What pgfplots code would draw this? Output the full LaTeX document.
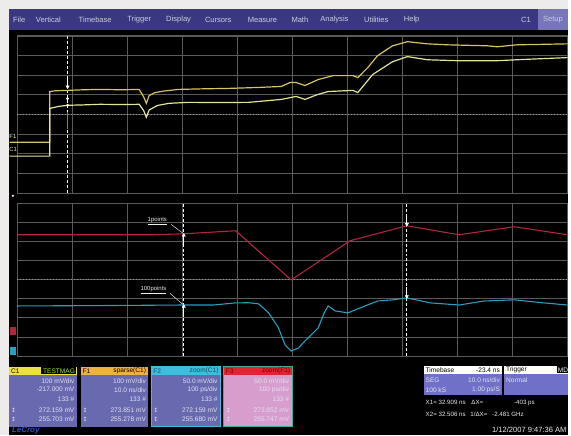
\documentclass[border=0pt]{standalone}
\usepackage{pgfplots}
\pgfplotsset{compat=1.18}
\usepackage{fontspec}
\setmainfont{Liberation Sans}
\newfontfamily\symfont{DejaVu Sans}
\definecolor{margin}{RGB}{238,236,234}
\definecolor{menubar}{RGB}{58,56,128}
\definecolor{menutext}{RGB}{205,205,225}
\definecolor{setupbox}{RGB}{118,118,185}
\definecolor{gridc}{RGB}{90,90,90}
\definecolor{centc}{RGB}{150,150,150}
\definecolor{trA}{RGB}{215,195,95}
\definecolor{trB}{RGB}{228,228,150}
\definecolor{trRed}{RGB}{178,38,62}
\definecolor{trCyan}{RGB}{40,158,192}
\definecolor{boxbody}{RGB}{105,105,175}
\definecolor{boxtext}{RGB}{225,225,240}
\definecolor{hdrC}{RGB}{238,225,60}
\definecolor{hdrF1}{RGB}{240,178,62}
\definecolor{hdrF2}{RGB}{60,190,222}
\definecolor{hdrF3}{RGB}{225,35,50}
\definecolor{pinkbody}{RGB}{215,158,205}
\definecolor{teal}{RGB}{60,175,150}
\definecolor{tbbody}{RGB}{112,112,200}
\definecolor{lecroy}{RGB}{50,80,190}
\newcommand{\menufont}{\fontsize{7.6}{8}\selectfont}
\newcommand{\boxfont}{\fontsize{6.6}{7}\selectfont}
\newcommand{\curfont}{\fontsize{6.2}{7}\selectfont}
\newcommand{\lblfont}{\fontsize{6}{7}\selectfont}
\pgfplotsset{panel/.style={scale only axis, width=554pt, xmin=0, xmax=10, ymin=-4, ymax=4,
  xtick={0,...,10}, ytick={-4,...,4}, xticklabels={}, yticklabels={}, major tick length=0pt,
  grid=major, grid style={gridc, line width=0.45pt}, axis line style={gridc, line width=0.6pt},
  clip=false, axis background/.style={fill=black}}}
\newcommand{\ibox}[4]{\fill[#4] (#1,-377) rectangle (#2,-429);\fill[#3] (#1,-369) rectangle (#2,-377);}
\newcommand{\irow}[3]{\node[anchor=east, inner sep=0pt, font=\boxfont, text=boxtext] at (#1,#2) {#3};}
\newcommand{\wtxt}[3]{\node[anchor=#1, inner sep=0pt, font=\curfont, text=white!85!gray] at (#2) {#3};}
\begin{document}
\begin{tikzpicture}[x=1pt,y=1pt]
\fill[margin] (0,0) rectangle (571,-438);
\fill[black] (9,-30) rectangle (571,-438);
\fill[menubar] (9,-9) rectangle (571,-30);
\fill[setupbox] (541,-9) rectangle (571,-30);
\foreach \t/\x in {File/13,Vertical/36,Timebase/79,Trigger/128,Display/167,Cursors/206,Measure/249,Math/293,Analysis/322,Utilities/366,Help/406,C1/524,Setup/546}
  \node[anchor=west, inner sep=0pt, font=\menufont, text=menutext] at (\x,-20) {\t};

% ---------- top panel ----------
\begin{axis}[panel, at={(17pt,-36pt)}, anchor=north west, height=158pt]
\addplot[centc, dash pattern=on 0.8pt off 2.2pt, line width=0.7pt] coordinates {(0,0) (10,0)};
\addplot[white, dash pattern=on 3pt off 2pt, line width=0.8pt] coordinates {(0.92,-4) (0.92,4)};
\addplot[trCyan, line width=1.4pt] coordinates {(0.92,0.1) (0.92,-0.76)};
\addplot[trA, line width=1.2pt] coordinates {
(-0.13,-1.42)(0.596,-1.42)(0.596,1.16)(0.70,1.20)(0.92,1.22)(1.2,1.25)(1.50,1.27)(1.9,1.25)(2.22,1.27)
(2.30,0.9)(2.35,0.56)(2.40,0.95)(2.50,1.10)(2.65,1.18)(2.94,1.27)(3.4,1.30)(3.84,1.32)(4.39,1.37)
(4.80,1.42)(4.96,1.62)(5.07,1.62)(5.23,1.47)(5.47,1.77)(5.74,1.97)(6.10,1.97)(6.19,1.87)(6.37,2.38)
(6.55,2.99)(6.82,3.49)(7.09,3.70)(7.45,3.59)(7.82,3.54)(8.54,3.49)(8.72,3.44)(9.08,3.54)(10,3.59)};
\addplot[trB, line width=1.2pt] coordinates {
(-0.13,-2.13)(0.596,-2.13)(0.596,0.30)(0.75,0.40)(0.92,0.46)(1.2,0.48)(1.50,0.51)(1.9,0.50)(2.22,0.51)
(2.30,0.2)(2.35,-0.15)(2.40,0.22)(2.55,0.45)(2.76,0.56)(3.12,0.61)(3.7,0.60)(4.21,0.61)(4.80,0.76)
(4.98,0.86)(5.07,0.91)(5.23,0.76)(5.45,1.0)(5.65,1.16)(6.10,1.22)(6.19,1.11)(6.46,2.03)(6.82,2.68)
(7.09,2.94)(7.45,2.78)(8.00,2.73)(8.72,2.73)(9.08,2.78)(10,2.89)};
\addplot[white, line width=1pt] coordinates {(0.92,1.95) (0.92,1.45)};
\addplot[white, only marks, mark=triangle*, mark size=1.8pt, mark options={rotate=180}] coordinates {(0.92,1.40)};
\addplot[white, only marks, mark=*, mark size=1.2pt] coordinates {(0.92,0.80) (0.92,0.46)};
\node[font=\lblfont, text=white!85!gray, anchor=west, inner sep=0pt] at (axis cs:-0.14,-1.11) {F1};
\node[font=\lblfont, text=trB, anchor=west, inner sep=0pt] at (axis cs:-0.14,-1.80) {C1};
\end{axis}

% ---------- bottom panel ----------
\begin{axis}[panel, at={(17pt,-204pt)}, anchor=north west, height=154pt]
\addplot[centc, dash pattern=on 0.8pt off 2.2pt, line width=0.7pt] coordinates {(0,0) (10,0)};
\addplot[white, dash pattern=on 3pt off 2pt, line width=0.8pt] coordinates {(3.03,-4) (3.03,4)};
\addplot[white, dash pattern=on 3pt off 2pt, line width=0.8pt] coordinates {(7.08,-4) (7.08,4)};
\addplot[trRed, line width=1.1pt] coordinates {
(0,2.33)(2.44,2.33)(3.03,2.38)(3.97,2.54)(4.98,-0.03)(6.05,2.02)(7.08,2.80)(8.03,2.33)(9.03,2.75)(10,2.33)};
\addplot[trCyan, line width=1.1pt] coordinates {
(0,-1.39)(1.5,-1.37)(3.03,-1.34)(3.57,-1.34)(3.97,-1.23)(4.2,-1.22)(4.39,-1.28)(4.57,-1.75)(4.75,-2.54)
(4.87,-3.43)(4.98,-3.74)(5.11,-3.59)(5.23,-3.22)(5.47,-2.54)(5.58,-1.75)(5.65,-1.39)(5.78,-1.65)
(6.01,-1.75)(6.32,-1.39)(6.55,-1.13)(6.82,-1.07)(7.08,-0.97)(7.51,-1.23)(8.03,-1.34)(8.48,-1.13)
(9.03,-1.07)(9.57,-1.23)(10,-1.34)};
% cursor markers
\addplot[white, line width=1pt] coordinates {(3.03,2.38) (3.03,1.75)};
\addplot[white, line width=1pt] coordinates {(3.03,-1.34) (3.03,-1.95)};
\addplot[white, only marks, mark=triangle*, mark size=1.9pt] coordinates {(3.03,2.30) (3.03,-1.42)};
\addplot[white, line width=1pt] coordinates {(7.08,2.80) (7.08,3.40)};
\addplot[white, line width=1pt] coordinates {(7.08,-0.97) (7.08,-0.40)};
\addplot[white, only marks, mark=triangle*, mark size=1.9pt, mark options={rotate=180}] coordinates {(7.08,2.88) (7.08,-0.89)};
% labels
\addplot[white!80!gray, line width=0.5pt] coordinates {(2.80,2.87) (3.01,2.42)};
\addplot[white!80!gray, line width=0.5pt] coordinates {(2.78,-0.73) (3.01,-1.30)};
\node[font=\lblfont, text=white!85!gray, inner sep=0.5pt] at (axis cs:2.55,3.05) {\underline{1points}};
\node[font=\lblfont, text=white!85!gray, inner sep=0.5pt] at (axis cs:2.48,-0.55) {\underline{100points}};
\end{axis}
\fill[trRed] (10,-329) rectangle (16,-337);
\fill[trCyan] (10,-349) rectangle (16,-357);
\fill[white] (13,-197) circle (1.2);

% ---------- info boxes ----------
\ibox{9}{77}{hdrC}{boxbody}
\ibox{81}{149}{hdrF1}{boxbody}
\ibox{152}{222}{hdrF2}{boxbody}
\ibox{225}{294}{hdrF3}{pinkbody}
\draw[hdrF2, line width=0.8pt] (152,-369) rectangle (222,-429);
\draw[teal, line width=0.8pt] (225,-369) rectangle (294,-429);
\fill[black] (41,-369.5) rectangle (76.5,-376.5);
\node[anchor=west, inner sep=0pt, font=\boxfont] at (11,-373) {C1};
\node[anchor=east, inner sep=0pt, font=\boxfont, text=hdrC!70!green] at (75.5,-373) {TESTMAG};
\node[anchor=west, inner sep=0pt, font=\boxfont] at (83,-373) {F1};
\node[anchor=east, inner sep=0pt, font=\boxfont] at (147,-373) {sparse(C1)};
\node[anchor=west, inner sep=0pt, font=\boxfont, text=hdrF2!40!black] at (154,-373) {F2};
\node[anchor=east, inner sep=0pt, font=\boxfont, text=hdrF2!40!black] at (220,-373) {zoom(C1)};
\node[anchor=west, inner sep=0pt, font=\boxfont, text=red!45!black] at (227,-373) {F3};
\node[anchor=east, inner sep=0pt, font=\boxfont, text=red!45!black] at (292,-373) {zoom(F1)};
\irow{75}{-383}{100 mV/div}\irow{75}{-392}{-217.000 mV}\irow{75}{-402}{133 \#}\irow{75}{-413}{272.159 mV}\irow{75}{-422}{255.703 mV}
\irow{147}{-383}{100 mV/div}\irow{147}{-392}{10.0 ns/div}\irow{147}{-402}{133 \#}\irow{147}{-413}{273.851 mV}\irow{147}{-422}{255.278 mV}
\irow{219}{-383}{50.0 mV/div}\irow{219}{-392}{100 ps/div}\irow{219}{-402}{133 \#}\irow{219}{-413}{272.159 mV}\irow{219}{-422}{255.680 mV}
\irow{291}{-383}{50.0 mV/div}\irow{291}{-392}{100 ps/div}\irow{291}{-402}{133 \#}\irow{291}{-413}{273.852 mV}\irow{291}{-422}{255.747 mV}
\foreach \x in {11,83,154,227} {
  \node[anchor=west, inner sep=0pt, font=\symfont\fontsize{6}{6}\selectfont, text=boxtext] at (\x,-413) {↕};
  \node[anchor=west, inner sep=0pt, font=\symfont\fontsize{6}{6}\selectfont, text=boxtext] at (\x,-422) {↕};
}
% timebase / trigger
\fill[white] (426,-368) rectangle (505,-376);
\fill[tbbody] (426,-376) rectangle (505,-397);
\fill[white] (507,-368) rectangle (571,-376);
\fill[tbbody] (507,-376) rectangle (571,-397);
\fill[black] (560,-368.5) rectangle (571,-375.5);
\node[anchor=west, inner sep=0pt, font=\boxfont] at (428,-372) {Timebase};
\node[anchor=east, inner sep=0pt, font=\boxfont] at (503,-372) {-23.4 ns};
\node[anchor=west, inner sep=0pt, font=\boxfont] at (509,-372) {Trigger};
\node[anchor=west, inner sep=0pt, font=\boxfont, text=white] at (561,-372) {MD};
\node[anchor=west, inner sep=0pt, font=\boxfont, text=boxtext] at (428,-382) {SEG};
\irow{503}{-382}{10.0 ns/div}
\node[anchor=west, inner sep=0pt, font=\boxfont, text=boxtext] at (428,-392) {100 kS};
\irow{503}{-392}{1.00 ps/S}
\node[anchor=west, inner sep=0pt, font=\boxfont, text=boxtext] at (509,-382) {Normal};
\wtxt{west}{428,-405}{X1=}
\wtxt{west}{441,-405}{32.909 ns}
\wtxt{west}{474,-405}{ΔX=}
\wtxt{east}{538,-405}{-403 ps}
\wtxt{west}{428,-417}{X2=}
\wtxt{west}{441,-417}{32.506 ns}
\wtxt{west}{473,-417}{1/ΔX=}
\wtxt{east}{527,-417}{-2.481 GHz}
\node[anchor=east, inner sep=0pt, font=\fontsize{7.6}{8}\selectfont, text=white!85!gray] at (570,-432) {1/12/2007 9:47:36 AM};
\node[anchor=west, inner sep=0pt, font=\fontsize{8}{9}\selectfont\bfseries\itshape, text=lecroy] at (12,-433) {LeCroy};
\end{tikzpicture}
\end{document}
